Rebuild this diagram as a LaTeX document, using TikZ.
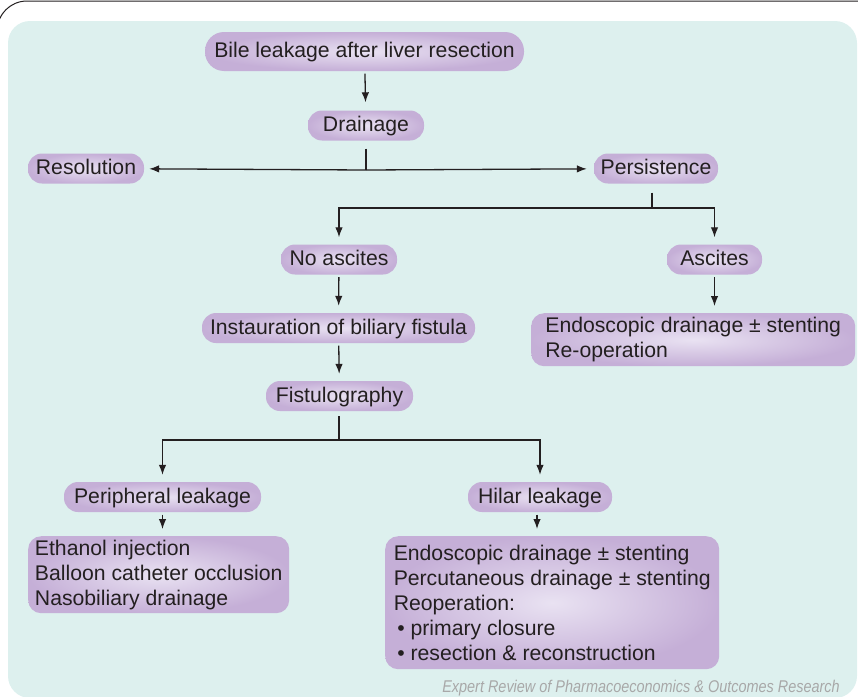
\documentclass[tikz,border=0pt]{standalone}
\usepackage{fontspec}
\setmainfont{Liberation Sans}
\newfontfamily\creditfont[FakeStretch=0.85]{Liberation Sans}
\usetikzlibrary{arrows.meta}
\definecolor{panelbg}{HTML}{DDF0EE}
\definecolor{boxedge}{HTML}{C5AFD7}
\definecolor{boxmid}{HTML}{E9E2F2}
\definecolor{ink}{HTML}{231F20}
\definecolor{creditgray}{HTML}{A8A8A8}

\begin{document}
\begin{tikzpicture}[x=1pt,y=-1pt]
\tikzset{
  pill/.style={rounded corners=14pt, inner color=boxmid, outer color=boxedge,
    inner sep=0pt, minimum height=30pt, text height=16pt, text depth=4pt,
    text=ink, font=\fontsize{21.2}{25}\selectfont},
  listbox/.style={rounded corners=13pt, inner color=boxmid, outer color=boxedge,
    anchor=north west, inner sep=0pt, align=left,
    text=ink, font=\fontsize{21.2}{25}\selectfont},
  link/.style={draw=ink, line width=1.3pt},
  arr/.style={link, -{Latex[length=10pt,width=7.5pt]}, shorten >=7pt, shorten <=2.5pt}
}
\useasboundingbox (0,0) rectangle (858,696);
% panel and frame
\fill [panelbg, rounded corners=22pt] (8,21) rectangle (857,698);
\draw [ink, line width=1pt, rounded corners=30pt] (860,1) -- (-3,1) -- (-3,60);
% top of the tree
\node [pill, minimum width=319pt, minimum height=39pt, rounded corners=19pt] (bile) at (364.5,51.5) {Bile leakage after liver resection};
\node [pill, minimum width=116pt] (drain) at (366,125.5) {Drainage};
\node [pill, minimum width=116pt] (res) at (86,168.5) {Resolution};
\node [pill, minimum width=124pt] (pers) at (656,168.5) {Persistence};
\coordinate (jdrain) at (366,170);
\draw [arr, shorten >=8pt] (bile) -- (drain);
\draw [link, shorten <=8pt] (drain) -- (jdrain);
\draw [arr, shorten <=0pt, shorten >=5pt] (jdrain) -- (res);
\draw [arr, shorten <=0pt] (jdrain) -- (pers);
% persistence branch
\node [pill, minimum width=116pt] (noasc) at (339,259.5) {No ascites};
\node [pill, minimum width=95pt] (asc) at (714.5,259.5) {Ascites};
\coordinate (jpers) at (652,208);
\draw [link, shorten <=9pt] (pers.south -| jpers) -- (jpers);
\draw [arr, shorten <=0pt] (jpers) -| (noasc);
\draw [arr, shorten <=0pt] (jpers) -| (asc);
\node [listbox, minimum width=324pt, minimum height=53pt] (endo) at (531,313)
  {Endoscopic drainage ± stenting\\Re-operation};
\draw [arr] (asc) -- (asc |- endo.north);
\node [pill, minimum width=273pt] (inst) at (338.5,328) {Instauration of biliary fistula};
\node [pill, minimum width=147pt] (fist) at (339.5,396) {Fistulography};
\draw [arr] (noasc) -- (inst);
\draw [arr] (inst) -- (fist);
% fistulography branch
\node [pill, minimum width=197pt] (peri) at (162.5,497) {Peripheral leakage};
\node [pill, minimum width=144pt] (hilar) at (540,497) {Hilar leakage};
\coordinate (jfist) at (339,440);
\draw [link, shorten <=5pt] (fist.south -| jfist) -- (jfist);
\draw [arr, shorten <=0pt] (jfist) -| (peri);
\draw [arr, shorten <=0pt] (jfist) -| (hilar);
\node [listbox, minimum width=261pt, minimum height=77pt] (perilist) at (28,536)
  {Ethanol injection\\Balloon catheter occlusion\\Nasobiliary drainage};
\node [listbox, minimum width=334pt, minimum height=133pt] (hilarlist) at (385,536)
  {Endoscopic drainage ± stenting\\Percutaneous drainage ± stenting\\Reoperation:\\
   \,• primary closure\\\,• resection \& reconstruction};
\draw [arr] (peri) -- (peri |- perilist.north);
\draw [arr] (hilar.south -| 537,0) -- (537,536);
% credit line
\node [anchor=base east, inner sep=0pt, text=creditgray, font=\creditfont\itshape\fontsize{17}{20}\selectfont] (credit) at (840,692)
  {Expert Review of Pharmacoeconomics \& Outcomes Research};
\end{tikzpicture}
\end{document}
